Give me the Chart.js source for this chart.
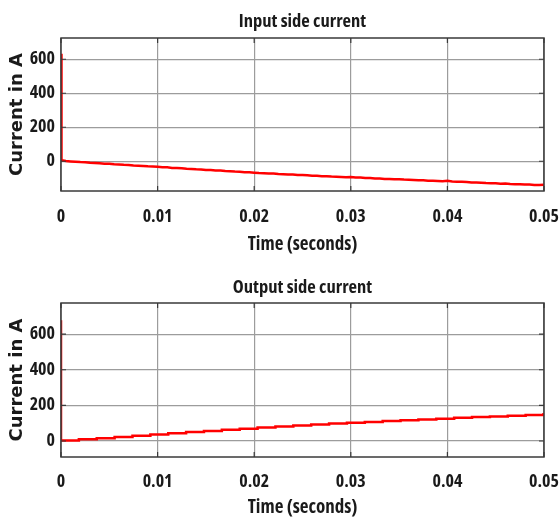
<!DOCTYPE html>
<html>
<head>
<meta charset="utf-8">
<script src="https://cdn.jsdelivr.net/npm/chart.js@4/dist/chart.umd.min.js"></script>
<style>
  body { margin: 0; background: #fff; }
  #wrap { position: relative; width: 560px; height: 523px; }
  canvas { position: absolute; left: 0; }
</style>
</head>
<body>
<div id="wrap">
  <canvas id="grafEntrada" width="560" height="262" style="top:0px"></canvas>
  <canvas id="grafSaida" width="560" height="262" style="top:261px"></canvas>
</div>
<script>
// eixo x (segundos)
var xTicks = [0, 0.01, 0.02, 0.03, 0.04, 0.05];
var yTicks = [0, 200, 400, 600];

// corrente de entrada
var inTime = [0, 0.00005, 0.0005, 0.001, 0.0015, 0.002, 0.0025, 0.003, 0.0035, 0.004, 0.0045, 0.005,
  0.0055, 0.006, 0.0065, 0.007, 0.0075, 0.008, 0.0085, 0.009, 0.0095, 0.010,
  0.0105, 0.011, 0.0115, 0.012, 0.0125, 0.013, 0.0135, 0.014, 0.0145, 0.015,
  0.0155, 0.016, 0.0165, 0.017, 0.0175, 0.018, 0.0185, 0.019, 0.0195, 0.020,
  0.0205, 0.021, 0.0215, 0.022, 0.0225, 0.023, 0.0235, 0.024, 0.0245, 0.025,
  0.0255, 0.026, 0.0265, 0.027, 0.0275, 0.028, 0.0285, 0.029, 0.0295, 0.030,
  0.0305, 0.031, 0.0315, 0.032, 0.0325, 0.033, 0.0335, 0.034, 0.0345, 0.035,
  0.0355, 0.036, 0.0365, 0.037, 0.0375, 0.038, 0.0385, 0.039, 0.0395, 0.040,
  0.0405, 0.041, 0.0415, 0.042, 0.0425, 0.043, 0.0435, 0.044, 0.0445, 0.045,
  0.0455, 0.046, 0.0465, 0.047, 0.0475, 0.048, 0.0485, 0.049, 0.0495, 0.050];
var inCurrent = [633, 6, 1, -1, -3, -5, -6, -9, -10, -12, -14, -15,
  -18, -19, -21, -22, -25, -26, -28, -30, -31, -33,
  -35, -36, -39, -40, -41, -44, -45, -47, -48, -51,
  -52, -54, -55, -58, -59, -61, -62, -65, -65, -67,
  -69, -70, -72, -72, -75, -76, -78, -78, -81, -81,
  -83, -85, -85, -88, -88, -90, -91, -92, -94, -93,
  -96, -96, -98, -99, -101, -101, -104, -104, -106, -106,
  -108, -109, -110, -112, -112, -114, -115, -116, -117, -115,
  -119, -120, -121, -122, -125, -125, -126, -128, -129, -130,
  -132, -131, -134, -135, -136, -137, -137, -139, -139, -138];

// corrente de saida (degraus)
var outTime = [0, 0, 0.00185, 0.0037, 0.00555, 0.0074, 0.00925, 0.0111, 0.01295, 0.0148, 0.01665,
  0.0185, 0.02035, 0.0222, 0.02405, 0.0259, 0.02775, 0.0296, 0.03145, 0.0333, 0.03515,
  0.037, 0.03885, 0.0407, 0.04255, 0.0444, 0.04625, 0.0481, 0.04995, 0.05];
var outCurrent = [678, 2, 9, 16, 22, 29, 36, 43, 50, 56, 63,
  69, 76, 81, 87, 92, 98, 103, 107, 112, 116,
  121, 125, 130, 134, 138, 142, 146, 150, 150];

var fonteEstreita = '"Open Sans", sans-serif';
var pesoEstreito = 'bold condensed';
var fonteLarga = '"DejaVu Sans", sans-serif';
var corTexto = '#1a1a1a';

function pontos(xs, ys) {
  var p = [];
  for (var i = 0; i < xs.length; i++) p.push({x: xs[i], y: ys[i]});
  return p;
}

// moldura e tracinhos internos
var moldura = {
  id: 'moldura',
  afterDraw: function (chart) {
    var a = chart.chartArea, ctx = chart.ctx;
    var sx = chart.scales.x, sy = chart.scales.y;
    ctx.save();
    ctx.strokeStyle = '#3a3a3a';
    ctx.lineWidth = 1.2;
    ctx.beginPath();
    xTicks.forEach(function (v) {
      var px = sx.getPixelForValue(v);
      ctx.moveTo(px, a.bottom); ctx.lineTo(px, a.bottom - 5);
      ctx.moveTo(px, a.top); ctx.lineTo(px, a.top + 5);
    });
    yTicks.forEach(function (v) {
      var py = sy.getPixelForValue(v);
      ctx.moveTo(a.left, py); ctx.lineTo(a.left + 5, py);
      ctx.moveTo(a.right, py); ctx.lineTo(a.right - 5, py);
    });
    ctx.stroke();
    ctx.lineWidth = 1.5;
    ctx.strokeRect(a.left, a.top, a.right - a.left, a.bottom - a.top);
    ctx.restore();
  }
};

function criaGrafico(id, titulo, dados, yMin, yMax, degrau, pad) {
  return new Chart(document.getElementById(id), {
    type: 'line',
    data: {
      datasets: [{
        data: dados,
        borderColor: '#ff0000',
        borderWidth: 2.5,
        pointRadius: 0,
        tension: 0,
        stepped: degrau
      }]
    },
    options: {
      responsive: false,
      animation: false,
      devicePixelRatio: 1,
      layout: { padding: { left: 0, right: 16, top: 0, bottom: 0 } },
      plugins: {
        legend: { display: false },
        tooltip: { enabled: false },
        title: {
          display: true,
          fullSize: false,
          text: titulo,
          color: corTexto,
          font: { family: fonteEstreita, size: 18.5, weight: pesoEstreito },
          padding: { top: pad.titleTop, bottom: pad.titleBottom }
        }
      },
      scales: {
        x: {
          type: 'linear',
          min: 0,
          max: 0.05,
          afterFit: function (s) { s.height = pad.xHeight; s.paddingLeft = 0; s.paddingRight = 0; },
          afterBuildTicks: function (s) { s.ticks = xTicks.map(function (v) { return {value: v}; }); },
          grid: { color: '#9c9c9c', lineWidth: 1.2, drawTicks: false },
          border: { display: false },
          ticks: {
            padding: pad.xTickPad,
            color: corTexto,
            maxRotation: 0,
            font: { family: fonteEstreita, size: 18, weight: pesoEstreito }
          },
          title: {
            display: true,
            text: 'Time (seconds)',
            color: corTexto,
            font: { family: fonteEstreita, size: 19, weight: pesoEstreito },
            padding: { top: 0, bottom: pad.xTitleBottom }
          }
        },
        y: {
          min: yMin,
          max: yMax,
          afterFit: function (s) { s.width = 61; s.paddingTop = 0; s.paddingBottom = 0; },
          afterBuildTicks: function (s) { s.ticks = yTicks.map(function (v) { return {value: v}; }); },
          grid: { color: '#9c9c9c', lineWidth: 1.2, drawTicks: false },
          border: { display: false },
          ticks: {
            padding: 6,
            color: corTexto,
            font: { family: fonteEstreita, size: 18, weight: pesoEstreito }
          },
          title: {
            display: true,
            text: 'Current in A',
            color: corTexto,
            font: { family: fonteLarga, size: 18, weight: 'bold' },
            padding: { top: 6.7, bottom: 0 }
          }
        }
      }
    },
    plugins: [moldura]
  });
}

criaGrafico('grafEntrada', 'Input side current', pontos(inTime, inCurrent), -175, 725, false,
  { titleTop: 10.9, titleBottom: 4.9, xHeight: 71, xTickPad: 15, xTitleBottom: 5.6 });

criaGrafico('grafSaida', 'Output side current', pontos(outTime, outCurrent), -90, 775, true,
  { titleTop: 15.9, titleBottom: 3.9, xHeight: 66, xTickPad: 14, xTitleBottom: 3.6 });
</script>
</body>
</html>
